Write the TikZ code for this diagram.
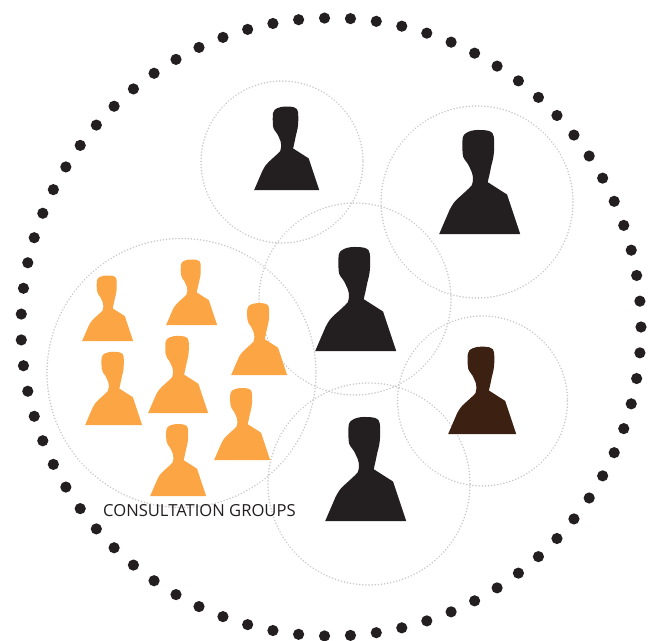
\documentclass[tikz,border=0pt]{standalone}
\usepackage{fontspec}
\setmainfont{Open Sans}
\definecolor{ink}{HTML}{231F20}
\definecolor{amber}{HTML}{FBA544}
\definecolor{umber}{HTML}{3C2012}
\definecolor{ringgray}{HTML}{C8C8C8}
\newcommand{\personshape}[4]{% cx, bottom y, width, colour
  \begin{scope}[shift={(#1,#2)},x=#3/197*1pt,y=#3/197*1pt]
    \fill[#4] (-98,0) -- (-73,58) .. controls (-66,72) and (-60,80) .. (-53,86)
      .. controls (-40,98) and (-28,108) .. (-19,118)
      .. controls (-15,128) and (-15,138) .. (-18,148)
      .. controls (-21,157) and (-25,163) .. (-28,170)
      .. controls (-33,178) and (-41,184) .. (-41,196)
      .. controls (-42,208) and (-42,222) .. (-41,233)
      .. controls (-39,242) and (-34,246) .. (-28,248)
      .. controls (-20,252) and (-10,253) .. (-3,253)
      .. controls (6,253) and (15,253) .. (22,251)
      .. controls (30,248) and (35,244) .. (35,236)
      .. controls (36,222) and (36,210) .. (35,198)
      .. controls (34,182) and (29,170) .. (27,158)
      .. controls (25,146) and (22,136) .. (20,126)
      -- (67,96) -- (99,0) -- cycle;
  \end{scope}}
\tikzset{
  groupring/.style={draw=ringgray,line width=1.7pt,dash pattern=on 0.01pt off 3.1pt,line cap=round},
  bigdot/.style={fill=ink},
  grouplabel/.style={text=ink,font=\fontsize{16.6}{19}\selectfont,inner sep=0pt}
}
\begin{document}
\begin{tikzpicture}[x=1pt,y=-1pt]
\useasboundingbox (0,0) rectangle (656,640);
\fill[white] (0,0) rectangle (656,640);
\draw[groupring] (282,162) circle[radius=81];
\draw[groupring] (477,202) circle[radius=96];
\draw[groupring] (355,299) circle[radius=96];
\draw[groupring] (181.5,373) circle[radius=134.5];
\draw[groupring] (482.5,401) circle[radius=85];
\draw[groupring] (369,484) circle[radius=101];
\foreach \i in {0,...,74}{
  \pgfmathsetmacro{\a}{-91.2+\i*4.8}
  \fill[bigdot] ({331+310*cos(\a)},{327+309*sin(\a)}) circle[radius=5.6];
}
\personshape{286.5}{190}{65}{ink}
\personshape{479.5}{234}{81}{ink}
\personshape{355.5}{351}{81}{ink}
\personshape{365.5}{521}{81}{ink}
\personshape{482}{434}{68}{umber}
\personshape{107.5}{341}{51}{amber}
\personshape{191.5}{325}{51}{amber}
\personshape{259}{375}{56}{amber}
\personshape{113.5}{425}{57}{amber}
\personshape{178}{413}{60}{amber}
\personshape{242}{460}{56}{amber}
\personshape{178}{496}{56}{amber}
\node[grouplabel,anchor=base west] (label) at (103,516) {CONSULTATION GROUPS};
\end{tikzpicture}
\end{document}
